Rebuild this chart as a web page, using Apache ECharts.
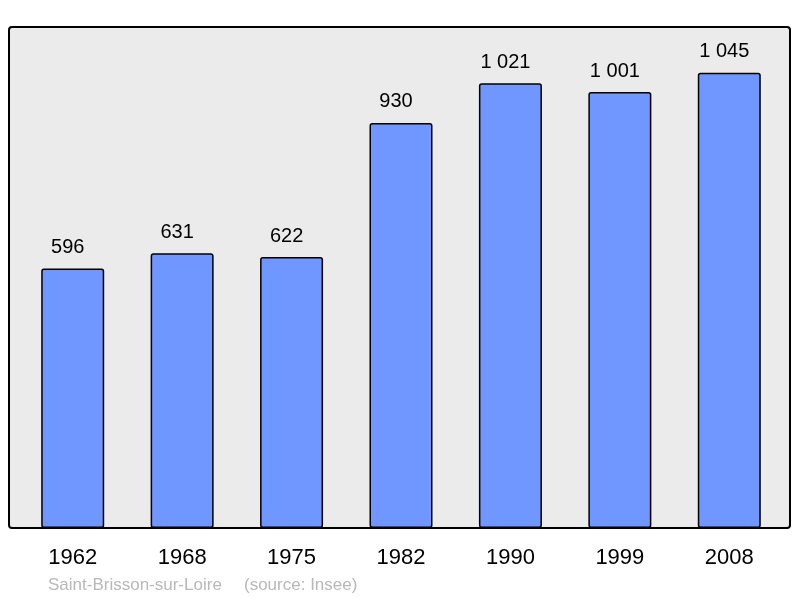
<!DOCTYPE html>
<html>
<head>
<meta charset="utf-8">
<script src="https://cdn.jsdelivr.net/npm/echarts@6/dist/echarts.min.js"></script>
<style>
  html, body { margin: 0; padding: 0; background: #fff; }
  #chart { width: 800px; height: 598px; }
</style>
</head>
<body>
<div id="chart"></div>
<script>
var years = ['1962', '1968', '1975', '1982', '1990', '1999', '2008']
var population = [596, 631, 622, 930, 1021, 1001, 1045]
var place = 'Saint-Brisson-sur-Loire'
var source = '(source: Insee)'

function sepThousands (v) {
  return String(v).replace(/\B(?=(\d{3})+(?!\d))/g, ' ')
}

var font = 'Liberation Sans, Arial, sans-serif'
var myChart = echarts.init(document.getElementById('chart'))
var option = {
  animation: false,
  textStyle: { fontFamily: font },
  graphic: [
    {
      type: 'rect',
      z: 0,
      shape: { x: 9, y: 27, width: 781, height: 501, r: 3 },
      style: { fill: '#ebebeb', stroke: '#000', lineWidth: 2 }
    },
    {
      type: 'text',
      left: 48,
      top: 577,
      style: { text: place, fill: '#b8b8b8', fontSize: 17, fontFamily: font }
    },
    {
      type: 'text',
      left: 244,
      top: 577,
      style: { text: source, fill: '#b8b8b8', fontSize: 17, fontFamily: font }
    }
  ],
  grid: { left: 18, top: 28, width: 766, height: 500 },
  xAxis: {
    type: 'category',
    data: years,
    axisLine: { show: false },
    axisTick: { show: false },
    axisLabel: { color: '#000', fontSize: 22, margin: 19 }
  },
  yAxis: {
    type: 'value',
    min: 0,
    max: 1148,
    show: false,
    splitLine: { show: false }
  },
  series: [{
    type: 'bar',
    data: population,
    barWidth: 63,
    z: 2,
    itemStyle: {
      color: '#7096ff',
      borderColor: '#000',
      borderWidth: 1.5,
      borderRadius: 2
    },
    label: {
      show: true,
      position: 'top',
      distance: 11,
      offset: [-5, 0],
      color: '#000',
      fontSize: 20,
      formatter: function (p) { return sepThousands(p.value) }
    }
  }]
}
myChart.setOption(option)
</script>
</body>
</html>
